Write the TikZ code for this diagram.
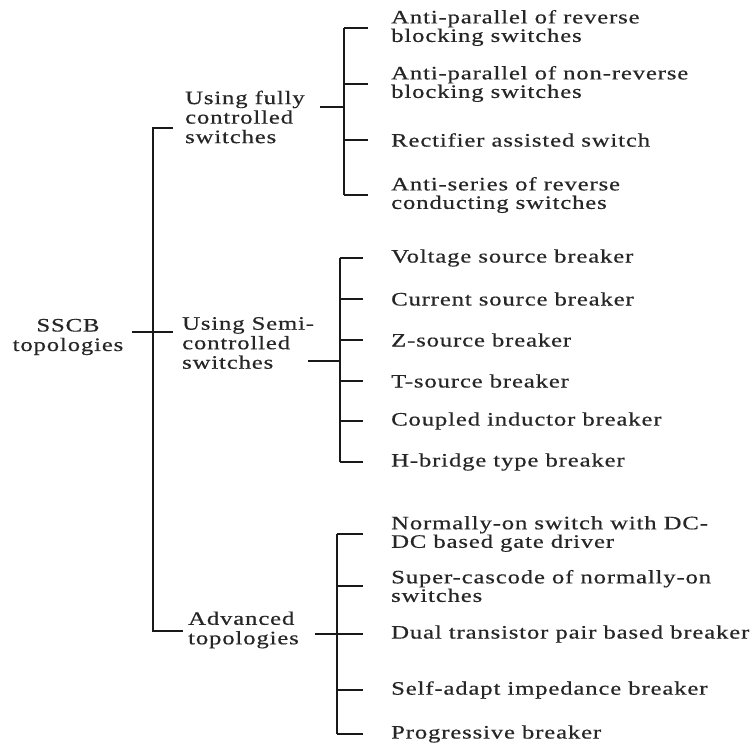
\documentclass[tikz,border=0pt]{standalone}
\usepackage{fontspec}
\setmainfont{Liberation Serif}[FakeStretch=1.3,LetterSpace=4.5,FakeBold=0.5]
\usetikzlibrary{calc}

\begin{document}
\begin{tikzpicture}[x=1pt, y=-1pt,
  font=\fontsize{19}{19.5}\selectfont,
  lbl/.style={inner sep=0pt, align=left, anchor=west, text=black!85},
  leaf/.style={lbl, font=\fontsize{19}{18.5}\selectfont},
  wire/.style={line width=1.6pt, draw=black!90}
]
\useasboundingbox (0,0) rectangle (754,744);
% root and first level
\node[lbl, align=center, anchor=center] (root) at (68,337) {SSCB\\topologies};
\node[lbl] (full) at (185,117) {Using fully\\controlled\\switches};
\node[lbl] (semi) at (182,343) {Using Semi-\\controlled\\switches};
\node[lbl] (adv) at (188,630) {Advanced\\topologies};
% main spine
\coordinate (mT) at (153,128);
\coordinate (mM) at (153,332);
\coordinate (mB) at (153,631);
\draw[wire] ([xshift=-12pt]full.west |- mT) -| (mB) -- ([xshift=-5pt]adv.west |- mB);
\draw[wire] ([xshift=8pt]root.east |- mM) -- ([xshift=-9pt]semi.west |- mM);
% fully controlled switches
\coordinate (fS) at (344,0);
\coordinate (fJ) at (344,107);
\foreach \nm/\yy/\txt in {f1/28/{Anti-parallel of reverse\\blocking switches},
    f2/84/{Anti-parallel of non-reverse\\blocking switches},
    f3/140/{Rectifier assisted switch},
    f4/195/{Anti-series of reverse\\conducting switches}} {
  \node[leaf] (\nm) at (391,\yy) {\txt};
  \draw[wire] (fS |- \nm.west) -- ++(24,0);
}
\draw[wire] (fS |- f1.west) -- (fS |- f4.west);
\draw[wire] (fJ) -- ++(-24,0);
% semi-controlled switches
\coordinate (sS) at (340,0);
\coordinate (sJ) at (340,361);
\foreach \nm/\yy/\txt in {s1/258/{Voltage source breaker},
    s2/299/{Current source breaker},
    s3/340/{Z-source breaker},
    s4/381/{T-source breaker},
    s5/421/{Coupled inductor breaker},
    s6/462/{H-bridge type breaker}} {
  \node[leaf] (\nm) at (391,\yy) {\txt};
  \draw[wire] (sS |- \nm.west) -- ++(23,0);
}
\draw[wire] (sS |- s1.west) -- (sS |- s6.west);
\draw[wire] (sJ) -- ++(-32,0);
% advanced topologies
\coordinate (aS) at (337,0);
\coordinate (aJ) at (337,634);
\foreach \nm/\yy/\txt in {a1/534/{Normally-on switch with DC-\\DC based gate driver},
    a2/586/{Super-cascode of normally-on\\switches},
    a3/634/{Dual transistor pair based breaker},
    a4/690/{Self-adapt impedance breaker},
    a5/734/{Progressive breaker}} {
  \node[leaf] (\nm) at (391,\yy) {\txt};
  \draw[wire] (aS |- \nm.west) -- ++(26,0);
}
\draw[wire] (aS |- a1.west) -- (aS |- a5.west);
\draw[wire] (aJ) -- ++(-22,0);
\end{tikzpicture}
\end{document}
